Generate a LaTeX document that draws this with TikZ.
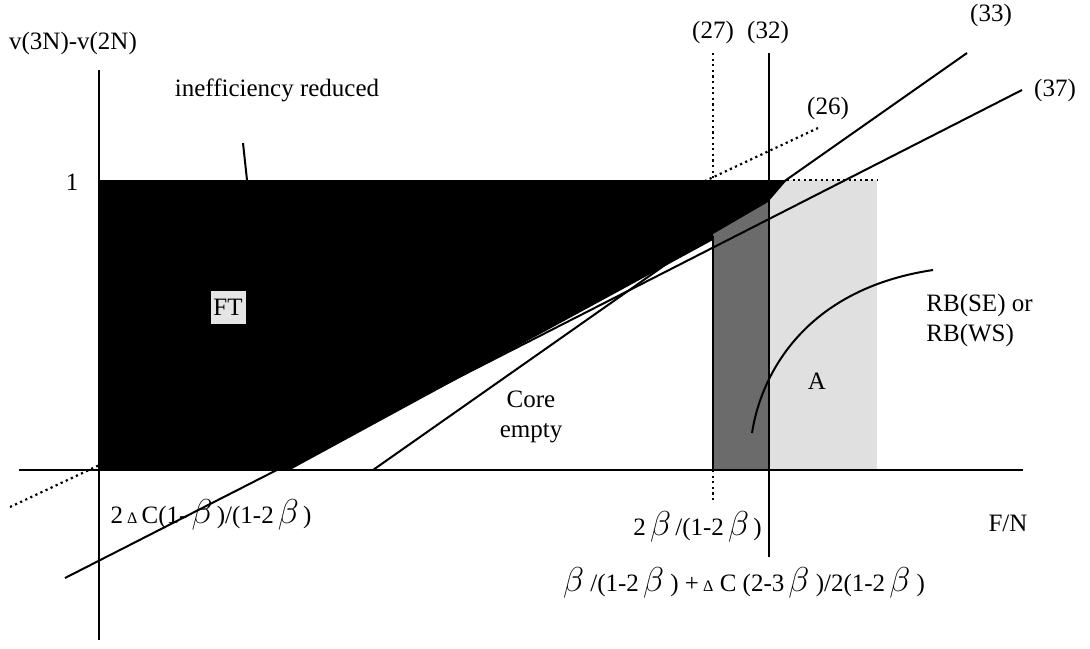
\documentclass[tikz,border=0pt]{standalone}
\usepackage{fontspec}
\setmainfont{Liberation Serif}
\usepackage{amsmath}
\newcommand{\bt}{{\fontsize{17}{17}\selectfont$\beta$}}
\newcommand{\dl}{{\footnotesize Δ}}

\begin{document}
\begin{tikzpicture}[x=0.5pt,y=-0.5pt,
    axis/.style={line width=1.3pt},
    bound/.style={line width=1pt},
    dots/.style={line width=1.1pt,dash pattern=on 1.1pt off 1.7pt},
    lbl/.style={font=\fontsize{12.5}{15}\selectfont,inner sep=1pt},
    ftbox/.style={lbl,fill=black!10,minimum width=17.5pt,minimum height=16.5pt}]
\useasboundingbox (0,0) rectangle (1090,648);
% end points
\coordinate (ytop) at (99,70);
\coordinate (ybot) at (99,640);
\coordinate (xl) at (19,470);
\coordinate (xr) at (1023,470);
\coordinate (a37) at (65,578);
\coordinate (b37) at (1022,90);
\coordinate (a33) at (373,470);
\coordinate (b33) at (967,53);
\coordinate (a26) at (10,507);
\coordinate (b26) at (818,128);
\coordinate (t32) at (769,53);
\coordinate (u32) at (769,557);
\coordinate (t27) at (713,53);
\coordinate (m27) at (713,180);
\coordinate (n27) at (713,470);
\coordinate (u27) at (713,502);
\coordinate (c1) at (787,180);
\coordinate (c2) at (877,180);
\coordinate (k1) at (243,143);
\coordinate (k2) at (247,180);
\coordinate (r1) at (752,433);
\coordinate (r2) at (933,270);
% shaded regions
\fill[black!12] (770,180) rectangle (877,470);
\fill[black!58] (713,200) rectangle (769,470);
\draw[dots] (a26) -- (b26);
\fill[black] (99,470) -- (99,180) -- (787,180) -- (768,202) -- (713,234)
    -- (713,240) -- (290,470) -- cycle;
\draw[bound] (713,236) -- (n27);
% lines
\draw[bound] (a37) -- (b37);
\draw[bound] (a33) -- (b33);
\draw[axis] (ytop) -- (ybot);
\draw[axis] (xl) -- (xr);
\draw[bound] (t32) -- (u32);
\draw[dots] (t27) -- (m27);
\draw[dots] (n27) -- (u27);
\draw[dots] (c1) -- (c2);
\draw[bound] (k1) -- (k2);
\draw[bound] (r1) .. controls (760,380) and (800,290) .. (r2);
% labels
\node[lbl] (vlab) at (73,43) {v(3N)-v(2N)};
\node[lbl] (ineff) at (277,90) {inefficiency reduced};
\node[lbl] (one) at (72,182) {1};
\node[lbl] (l27) at (713,32) {(27)};
\node[lbl] (l32) at (768,32) {(32)};
\node[lbl] (l33) at (991,15) {(33)};
\node[lbl] (l37) at (1055,90) {(37)};
\node[lbl] (l26) at (828,108) {(26)};
\node[ftbox] (ft) at (228,307) {FT};
\node[lbl,align=center] (core) at (531,417) {Core\\empty};
\node[lbl] (A) at (817,381) {A};
\node[lbl,anchor=west,align=left] (rb) at (924,320) {RB(SE) or\\RB(WS)};
\node[lbl] (x1) at (211,515) {2\,\dl\,C(1-\,\bt\,)/(1-2\,\bt\,)};
\node[lbl,anchor=east] (x2) at (764,527) {2\,\bt\,/(1-2\,\bt\,)};
\node[lbl] (x3) at (744,583) {\bt\ /(1-2\,\bt\ ) +\,\dl\ C (2-3\,\bt\ )/2(1-2\,\bt\ )};
\node[lbl] (fn) at (1008,523) {F/N};
\end{tikzpicture}
\end{document}
